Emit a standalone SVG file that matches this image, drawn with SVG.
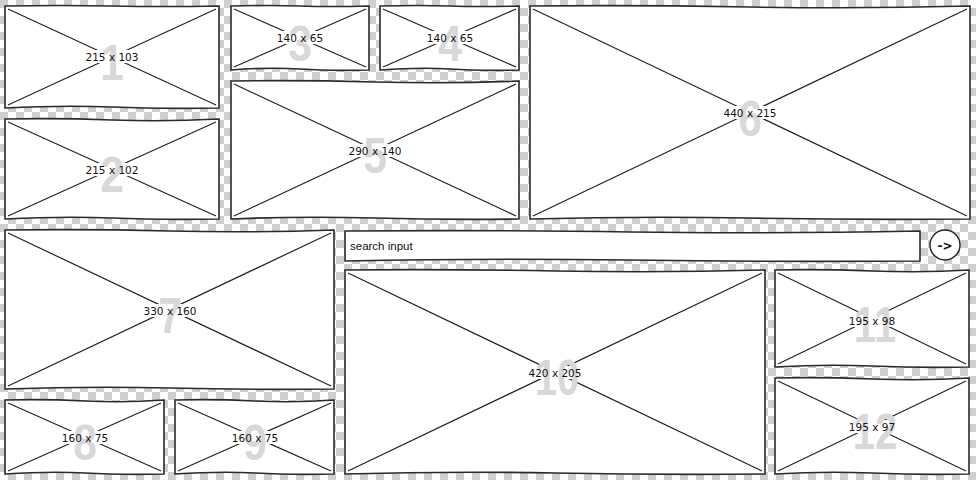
<svg xmlns="http://www.w3.org/2000/svg" width="976" height="480" viewBox="0 0 976 480">
<defs>
<pattern id="chk" x="0" y="0" width="16" height="16" patternUnits="userSpaceOnUse">
<rect width="16" height="16" fill="#ffffff"/>
<rect x="0" y="0" width="8" height="8" fill="#cfcfcf"/>
<rect x="8" y="8" width="8" height="8" fill="#cfcfcf"/>
</pattern>
</defs>
<style>
.box{fill:#ffffff;stroke:#2a2a2a;stroke-width:1.6}
.x{stroke:#222;stroke-width:1.2;fill:none}
.bg{fill:#ffffff}
.num{font-family:"Liberation Sans",sans-serif;font-weight:bold;font-size:50px;fill:#d8d8d8;text-anchor:middle}
.lbl{font-family:"DejaVu Sans",sans-serif;font-size:10.5px;fill:#111;text-anchor:middle}
.inp{font-family:"Liberation Sans",sans-serif;font-size:11.5px;fill:#111}
</style>
<rect width="976" height="480" fill="url(#chk)"/>

<g id="node-1">
<path class="box" d="M5 6 Q60 5 112 6 T219 6 L219 108 Q160 109 112 107 T5 108 Z"/>
<path class="x" d="M8 9 L216 105 M216 9 L8 105"/>
<rect class="bg" x="84" y="50" width="56" height="13"/>
<text class="num" transform="translate(112 80) scale(0.85 1)">1</text>
<text class="lbl" x="112" y="61">215 x 103</text>
</g>

<g id="node-2">
<path class="box" d="M5 119 Q60 118 112 120 T219 119 L219 219 Q160 220 112 218 T5 219 Z"/>
<path class="x" d="M8 122 L216 216 M216 122 L8 216"/>
<rect class="bg" x="84" y="163" width="56" height="13"/>
<text class="num" transform="translate(112 192) scale(0.85 1)">2</text>
<text class="lbl" x="112" y="174">215 x 102</text>
</g>

<g id="node-3">
<path class="box" d="M231 6 Q270 5 300 6 T369 6 L369 70 Q330 71 300 69 T231 70 Z"/>
<path class="x" d="M234 9 L366 67 M366 9 L234 67"/>
<rect class="bg" x="275" y="31" width="50" height="13"/>
<text class="num" transform="translate(300 61) scale(0.85 1)">3</text>
<text class="lbl" x="300" y="42">140 x 65</text>
</g>

<g id="node-4">
<path class="box" d="M380 6 Q420 5 450 6 T519 6 L519 70 Q480 71 450 69 T380 70 Z"/>
<path class="x" d="M383 9 L516 67 M516 9 L383 67"/>
<rect class="bg" x="425" y="31" width="50" height="13"/>
<text class="num" transform="translate(450 61) scale(0.85 1)">4</text>
<text class="lbl" x="450" y="42">140 x 65</text>
</g>

<g id="node-5">
<path class="box" d="M231 81 Q300 80 375 82 T519 81 L519 219 Q450 220 375 218 T231 219 Z"/>
<path class="x" d="M234 84 L516 216 M516 84 L234 216"/>
<rect class="bg" x="347" y="144" width="56" height="13"/>
<text class="num" transform="translate(375 173) scale(0.85 1)">5</text>
<text class="lbl" x="375" y="155">290 x 140</text>
</g>

<g id="node-6">
<path class="box" d="M530 6 Q640 5 750 7 T970 6 L970 219 Q860 220 750 218 T530 219 Z"/>
<path class="x" d="M533 9 L967 216 M967 9 L533 216"/>
<rect class="bg" x="722" y="106" width="56" height="13"/>
<text class="num" transform="translate(750 136) scale(0.85 1)">6</text>
<text class="lbl" x="750" y="117">440 x 215</text>
</g>

<g id="node-7">
<path class="box" d="M5 230 Q90 229 170 231 T334 230 L334 389 Q250 390 170 388 T5 389 Z"/>
<path class="x" d="M8 233 L331 386 M331 233 L8 386"/>
<rect class="bg" x="142" y="304" width="56" height="13"/>
<text class="num" transform="translate(170 333) scale(0.85 1)">7</text>
<text class="lbl" x="170" y="315">330 x 160</text>
</g>

<g id="node-search">
<path class="box" d="M345 231 Q500 230 630 232 T920 231 L920 261 Q780 262 630 260 T345 261 Z"/>
<text class="inp" x="350" y="250">search input</text>
</g>

<g id="node-button">
<circle cx="945" cy="245" r="15" fill="#fff" stroke="#222" stroke-width="1.4"/>
<text x="945" y="249.5" font-family="DejaVu Sans,sans-serif" font-size="12" font-weight="bold" fill="#111" text-anchor="middle">-&gt;</text>
</g>

<g id="node-10">
<path class="box" d="M345 270 Q450 269 555 271 T765 270 L765 474 Q660 475 555 473 T345 474 Z"/>
<path class="x" d="M348 273 L762 471 M762 273 L348 471"/>
<rect class="bg" x="527" y="366" width="56" height="13"/>
<text class="num" transform="translate(557 395) scale(0.8 1)">10</text>
<text class="lbl" x="555" y="377">420 x 205</text>
</g>

<g id="node-11">
<path class="box" d="M775 270 Q820 269 872 271 T969 270 L969 367 Q920 368 872 366 T775 367 Z"/>
<path class="x" d="M778 273 L966 364 M966 273 L778 364"/>
<rect class="bg" x="847" y="314" width="50" height="13"/>
<text class="num" transform="translate(875 342) scale(0.8 1)">11</text>
<text class="lbl" x="872" y="325">195 x 98</text>
</g>

<g id="node-12">
<path class="box" d="M775 378 Q820 377 872 379 T969 378 L969 474 Q920 475 872 473 T775 474 Z"/>
<path class="x" d="M778 381 L966 471 M966 381 L778 471"/>
<rect class="bg" x="847" y="420" width="50" height="13"/>
<text class="num" transform="translate(875 449) scale(0.8 1)">12</text>
<text class="lbl" x="872" y="431">195 x 97</text>
</g>

<g id="node-8">
<path class="box" d="M5 400 Q45 399 85 401 T164 400 L164 474 Q120 475 85 473 T5 474 Z"/>
<path class="x" d="M8 403 L161 471 M161 403 L8 471"/>
<rect class="bg" x="60" y="431" width="50" height="13"/>
<text class="num" transform="translate(85 460) scale(0.85 1)">8</text>
<text class="lbl" x="85" y="442">160 x 75</text>
</g>

<g id="node-9">
<path class="box" d="M175 400 Q215 399 255 401 T334 400 L334 474 Q290 475 255 473 T175 474 Z"/>
<path class="x" d="M178 403 L331 471 M331 403 L178 471"/>
<rect class="bg" x="230" y="431" width="50" height="13"/>
<text class="num" transform="translate(255 460) scale(0.85 1)">9</text>
<text class="lbl" x="255" y="442">160 x 75</text>
</g>

<g id="connectors"></g>
</svg>
